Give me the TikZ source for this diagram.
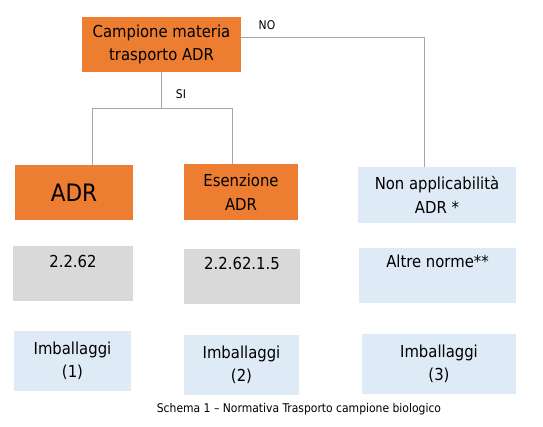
\documentclass[tikz,border=0pt]{standalone}
\usepackage{fontspec}
\setmainfont{DejaVu Sans Condensed}
\definecolor{adrorange}{HTML}{ED7D31}
\definecolor{adrblue}{HTML}{DEEAF6}
\definecolor{adrgray}{HTML}{D9D9D9}
\definecolor{linkgray}{HTML}{A6A6A6}
\tikzset{
  box/.style={rectangle, inner sep=2pt, align=center, font=\fontsize{16.5}{23.5}\selectfont},
  orangebox/.style={box, fill=adrorange},
  bluebox/.style={box, fill=adrblue},
  graybox/.style={box, fill=adrgray},
  link/.style={draw=linkgray, line width=1pt},
  smalltext/.style={font=\fontsize{12}{14}\selectfont, inner sep=0pt}
}
\begin{document}
\begin{tikzpicture}[x=1pt, y=-1pt]
  \useasboundingbox (0,0) rectangle (543,427);

  % radice
  \node[orangebox, minimum width=159pt, minimum height=55pt] (root) at (161.5,44.5)
    {Campione materia\\trasporto ADR};

  % primo livello
  \node[orangebox, minimum width=118pt, minimum height=55pt,
        font=\fontsize{24}{28}\selectfont] (adr) at (74,192.5) {ADR};
  \node[orangebox, minimum width=114pt, minimum height=56pt] (esen) at (241,192)
    {Esenzione\\ADR};
  \node[bluebox, minimum width=158pt, minimum height=56pt] (nonapp) at (437,195)
    {Non applicabilità\\ADR *};

  % norme di riferimento (testo in alto)
  \node[graybox, minimum width=120pt, minimum height=55pt] (normA) at (73,273.5) {};
  \node[graybox, minimum width=116pt, minimum height=55pt] (normB) at (242,276.5) {};
  \node[bluebox, minimum width=157pt, minimum height=55pt] (normC) at (437.5,275.5) {};
  \node[box, anchor=north] (normA-t) at ([yshift=-7pt]normA.north) {2.2.62};
  \node[box, anchor=north] (normB-t) at ([yshift=-6pt]normB.north) {2.2.62.1.5};
  \node[box, anchor=north] (normC-t) at ([yshift=-5pt]normC.north) {Altre norme**};

  % imballaggi
  \node[bluebox, minimum width=117pt, minimum height=60pt] (packA) at (72.5,361)
    {Imballaggi\\(1)};
  \node[bluebox, minimum width=115pt, minimum height=60pt] (packB) at (241.5,365)
    {Imballaggi\\(2)};
  \node[bluebox, minimum width=154pt, minimum height=60pt] (packC) at (439,364)
    {Imballaggi\\(3)};

  % connettori
  \coordinate (forkL) at (92,109);
  \coordinate (forkR) at (232,109);
  \coordinate (noturn) at (424,38);
  \draw[link] (root.south) -- (root.south |- forkL);
  \draw[link] (forkL |- adr.north) -- (forkL) -- (forkR) -- (forkR |- esen.north);
  \draw[link] (root.east |- noturn) -- (noturn) -- (noturn |- nonapp.north);

  \node[smalltext] (no) at (267,25) {NO};
  \node[smalltext] (si) at (181,94) {SI};

  % didascalia
  \node[smalltext] (caption) at (299,409)
    {Schema 1 – Normativa Trasporto campione biologico};
\end{tikzpicture}
\end{document}
